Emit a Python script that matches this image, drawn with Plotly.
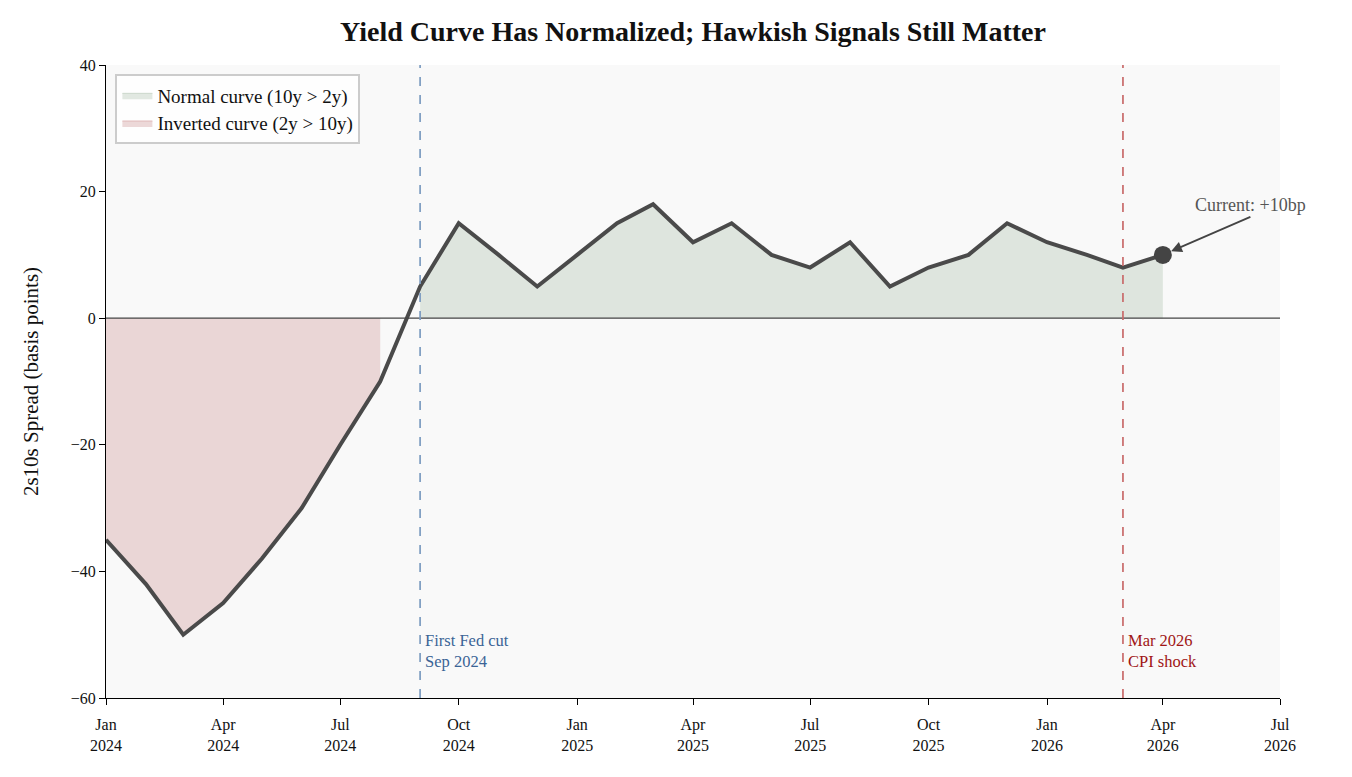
import plotly.graph_objects as go

# monthly 2s10s spread, bp
months = ['2024-01-01', '2024-02-01', '2024-03-01', '2024-04-01', '2024-05-01', '2024-06-01',
          '2024-07-01', '2024-08-01', '2024-09-01', '2024-10-01', '2024-11-01', '2024-12-01',
          '2025-01-01', '2025-02-01', '2025-03-01', '2025-04-01', '2025-05-01', '2025-06-01',
          '2025-07-01', '2025-08-01', '2025-09-01', '2025-10-01', '2025-11-01', '2025-12-01',
          '2026-01-01', '2026-02-01', '2026-03-01', '2026-04-01']
spread = [-35, -42, -50, -45, -38, -30, -20, -10, 5, 15, 10, 5,
          10, 15, 18, 12, 15, 10, 8, 12, 5, 8, 10, 15,
          12, 10, 8, 10]

tick_dates = ['2024-01-01', '2024-04-01', '2024-07-01', '2024-10-01', '2025-01-01', '2025-04-01',
              '2025-07-01', '2025-10-01', '2026-01-01', '2026-04-01', '2026-07-01']
tick_labels = ['Jan<br>2024', 'Apr<br>2024', 'Jul<br>2024', 'Oct<br>2024', 'Jan<br>2025', 'Apr<br>2025',
               'Jul<br>2025', 'Oct<br>2025', 'Jan<br>2026', 'Apr<br>2026', 'Jul<br>2026']

fed_cut = '2024-09-01'
cpi_shock = '2026-03-01'

FONT = 'Liberation Serif'

inv_x = [m for m, v in zip(months, spread) if v < 0]
inv_y = [v for v in spread if v < 0]
norm_x = [m for m, v in zip(months, spread) if v > 0 and m >= fed_cut]
norm_y = [v for m, v in zip(months, spread) if v > 0 and m >= fed_cut]

fig = go.Figure()

fig.add_trace(go.Scatter(x=norm_x, y=norm_y, fill='tozeroy', mode='lines',
                         line=dict(color='#cbd8cb', width=1), fillcolor='rgba(200,214,200,0.55)',
                         name='Normal curve (10y > 2y)'))
fig.add_trace(go.Scatter(x=inv_x, y=inv_y, fill='tozeroy', mode='lines',
                         line=dict(color='#e0b8b8', width=1), fillcolor='rgba(215,170,170,0.45)',
                         name='Inverted curve (2y > 10y)'))

fig.add_hline(y=0, line=dict(color='#444444', width=1.3))
fig.add_vline(x=fed_cut, line=dict(color='#7c9cc0', width=1.7, dash='dash'))
fig.add_vline(x=cpi_shock, line=dict(color='#c86a6a', width=1.7, dash='dash'))

fig.add_trace(go.Scatter(x=months, y=spread, mode='lines',
                         line=dict(color='#4a4a4a', width=4), showlegend=False))
fig.add_trace(go.Scatter(x=[months[-1]], y=[spread[-1]], mode='markers',
                         marker=dict(color='#444444', size=18), showlegend=False))

fig.add_annotation(x=fed_cut, y=-52.5, text='First Fed cut<br>Sep 2024', showarrow=False,
                   xanchor='left', yanchor='middle', xshift=3, align='left',
                   font=dict(family=FONT, size=16.5, color='#3b6496'))
fig.add_annotation(x=cpi_shock, y=-52.5, text='Mar 2026<br>CPI shock', showarrow=False,
                   xanchor='left', yanchor='middle', xshift=3, align='left',
                   font=dict(family=FONT, size=16.5, color='#a01515'))
fig.add_annotation(x=months[-1], y=spread[-1], text='Current: +10bp',
                   ax='2026-06-08', ay=16, axref='x', ayref='y',
                   showarrow=True, arrowhead=2, arrowsize=1.2, arrowwidth=1.8, arrowcolor='#444444',
                   standoff=9, xanchor='center', yanchor='bottom',
                   font=dict(family=FONT, size=18, color='#555555'))

fig.update_layout(
    width=1336, height=761,
    margin=dict(l=98, r=64, t=57, b=71),
    paper_bgcolor='white', plot_bgcolor='#f9f9f9',
    font=dict(family=FONT, size=16, color='#111111'),
    title=dict(text='<b>Yield Curve Has Normalized; Hawkish Signals Still Matter</b>',
               x=0.5, xref='paper', y=0.97, yref='container', xanchor='center', yanchor='middle',
               font=dict(family=FONT, size=28, color='#111111')),
    showlegend=True,
    legend=dict(x=0.008, y=0.985, xanchor='left', yanchor='top', bgcolor='rgba(255,255,255,0.85)',
                bordercolor='#cccccc', borderwidth=2, font=dict(family=FONT, size=19)),
)
fig.update_xaxes(range=['2024-01-01', '2026-07-01'], tickvals=tick_dates, ticktext=tick_labels,
                 showgrid=False, showline=True, linecolor='black', linewidth=1,
                 ticks='outside', ticklen=6, tickcolor='black', zeroline=False, automargin=False,
                 ticklabelstandoff=6)
fig.update_yaxes(range=[-60, 40], tickvals=[-60, -40, -20, 0, 20, 40],
                 showgrid=False, showline=True, linecolor='black', linewidth=1,
                 ticks='outside', ticklen=6, tickcolor='black', zeroline=False, automargin=False,
                 title=dict(text='2s10s Spread (basis points)', font=dict(size=21), standoff=26))

fig.write_html('out.html')
